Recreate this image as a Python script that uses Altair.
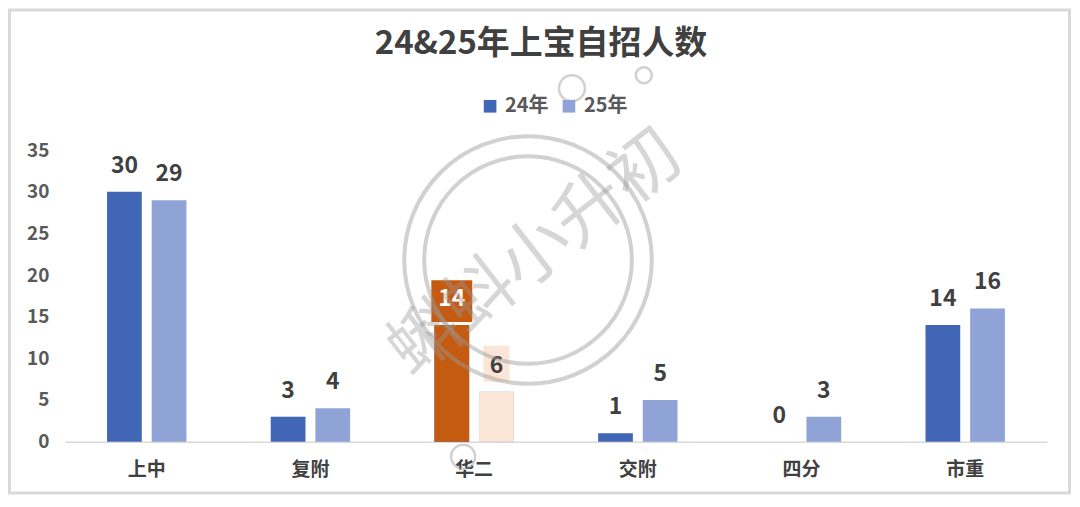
import altair as alt
import pandas as pd

# ---- data ----
title_text = "24&25年上宝自招人数"
schools = ["上中", "复附", "华二", "交附", "四分", "市重"]
years = ["24年", "25年"]
counts_24 = [30, 3, 14, 1, 0, 14]
counts_25 = [29, 4, 6, 5, 3, 16]
highlight_school = "华二"
watermark_text = "蝌蚪小升初"

# ---- styles ----
FONT = "Noto Sans CJK SC"
C24, C25 = "#4066B5", "#8FA3D7"
H24, H25 = "#C55A11", "#FBE5D6"
TXT = "#404040"
W, H = 984, 292
PAD = {"left": 57, "top": 142, "right": 25, "bottom": 54}

rows = []
for s, a, b in zip(schools, counts_24, counts_25):
    rows.append({"school": s, "year": years[0], "count": a})
    rows.append({"school": s, "year": years[1], "count": b})
df = pd.DataFrame(rows)

x_enc = alt.X(
    "school:N", sort=schools,
    scale=alt.Scale(paddingInner=0.515, paddingOuter=0.2575),
    axis=alt.Axis(title=None, labelAngle=0, ticks=False, domain=True,
                  domainColor="#d9d9d9", domainWidth=1.5, labelFontSize=19,
                  labelFontWeight="bold", labelColor=TXT, labelPadding=19),
)
xo_enc = alt.XOffset("year:N", sort=years,
                     scale=alt.Scale(paddingInner=0.222, paddingOuter=0))
y_enc = alt.Y(
    "count:Q", scale=alt.Scale(domain=[0, 35], nice=False),
    axis=alt.Axis(title=None, values=[0, 5, 10, 15, 20, 25, 30, 35], grid=False,
                  ticks=False, domain=False, labelFontSize=19,
                  labelFontWeight="bold", labelColor="#595959", labelPadding=16),
)

base = alt.Chart(df)

frame = alt.Chart(pd.DataFrame({"k": [0]})).mark_rect(
    fill="transparent", stroke="#d9d9d9", strokeWidth=3
).encode(x=alt.value(-55.5), x2=alt.value(1006.5),
         y=alt.value(-140.5), y2=alt.value(343.5))

bars = base.mark_bar().encode(
    x=x_enc, xOffset=xo_enc, y=y_enc,
    color=alt.Color(
        "year:N", scale=alt.Scale(domain=years, range=[C24, C25]),
        legend=alt.Legend(title=None, orient="none", legendX=416, legendY=-54,
                          direction="horizontal", symbolType="square",
                          symbolSize=160, labelFontSize=20, labelFontWeight="bold",
                          labelColor="#595959", labelOffset=5, columnPadding=10,
                          symbolStrokeWidth=0),
    ),
)

hl = base.transform_filter(alt.datum.school == highlight_school)

hl_bars = hl.mark_bar().encode(
    x=x_enc, xOffset=xo_enc, y=y_enc,
    color=alt.condition(alt.datum.year == years[0], alt.value(H24), alt.value(H25)),
)

box24 = hl.transform_filter(alt.datum.year == years[0]).mark_rect(
    width=41, yOffset=-3, y2Offset=-45, color=H24
).encode(x=x_enc, xOffset=xo_enc, y=y_enc, y2=alt.Y2("count:Q"))

box25 = hl.transform_filter(alt.datum.year == years[1]).mark_rect(
    width=26, yOffset=-10, y2Offset=-46, color=H25
).encode(x=x_enc, xOffset=xo_enc, y=y_enc, y2=alt.Y2("count:Q"))

labels = base.mark_text(
    dy=-19, baseline="alphabetic", fontSize=23, fontWeight="bold", font=FONT
).encode(
    x=x_enc, xOffset=xo_enc, y=y_enc, text="count:Q",
    color=alt.condition(
        (alt.datum.school == highlight_school) & (alt.datum.year == years[0]),
        alt.value("white"), alt.value(TXT)),
)

title = alt.Chart(pd.DataFrame({"t": [title_text]})).mark_text(
    fontSize=33, fontWeight="bold", color=TXT, font=FONT, baseline="middle"
).encode(text="t:N", x=alt.value(477), y=alt.value(-106))

# watermark decoration
wm_rings = alt.Chart(pd.DataFrame({"r": [61504, 43264, 676, 256, 576],
                                   "px": [464, 464, 508, 580, 399],
                                   "py": [110, 110, -62, -75, 307],
                                   "sw": [4, 4, 2.5, 2.5, 2.5]})).mark_point(
    shape="circle", filled=False, color="#9a9a9a", opacity=0.45
).encode(x=alt.X("px:Q", scale=None), y=alt.Y("py:Q", scale=None),
         size=alt.Size("r:Q", scale=None, legend=None),
         strokeWidth=alt.StrokeWidth("sw:Q", scale=None, legend=None))

wm_text = alt.Chart(pd.DataFrame({"t": [watermark_text]})).mark_text(
    fontSize=70, angle=322, color="#9a9a9a", opacity=0.4, font=FONT,
    baseline="middle", align="center"
).encode(text="t:N", x=alt.value(472), y=alt.value(104))

chart = alt.layer(
    frame, bars, hl_bars, box24, box25, labels, title, wm_rings, wm_text
).properties(
    width=W, height=H, padding=PAD, autosize=alt.AutoSizeParams(type="none")
).configure(font=FONT, view=alt.ViewConfig(stroke=None))

chart.save("out.html", embed_options={"renderer": "svg", "actions": False})
